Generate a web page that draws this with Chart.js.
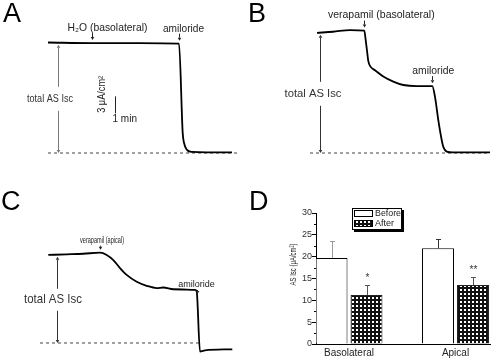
<!DOCTYPE html>
<html>
<head>
<meta charset="utf-8">
<script src="https://cdn.jsdelivr.net/npm/chart.js@4.4.1/dist/chart.umd.min.js"></script>
<style>
  body { margin: 0; background: #fff; }
  #fig { position: relative; width: 500px; height: 363px; overflow: hidden; font-family: "Liberation Sans", Arial, sans-serif; }
  #fig canvas { position: absolute; }
  .tag { position: absolute; font-size: 27px; line-height: 27px; color: #000; }
</style>
</head>
<body>
<div id="fig">
  <canvas id="chartA" width="250" height="170" style="left:0;top:0"></canvas>
  <canvas id="chartB" width="250" height="170" style="left:250px;top:0"></canvas>
  <canvas id="chartC" width="250" height="183" style="left:0;top:180px"></canvas>
  <canvas id="chartD" width="245" height="183" style="left:255px;top:180px"></canvas>
  <div class="tag" style="left:3px;top:0">A</div>
  <div class="tag" style="left:248px;top:0">B</div>
  <div class="tag" style="left:1px;top:188px">C</div>
  <div class="tag" style="left:249px;top:188px">D</div>
</div>
<script>
var FONT = '"Liberation Sans", Arial, sans-serif';
Chart.defaults.font.family = FONT;

// traces: time in min, AS Isc in uA/cm2
// A - H2O basolateral, then amiloride
var aTime = [4.8, 9.2, 14.0, 17.9, 18.27, 18.4, 18.67, 19.17, 23.2];
var aIsc = [19.5, 19.4, 19.4, 19.3, 3.5, 1.8, 0.6, 0.2, 0.1];
var aMarkTime = [9.2, 17.9];
var aMarkLabel = ['H\u2082O (basolateral)', 'amiloride'];

// B - verapamil basolateral, then amiloride
var bTime = [6.7, 8.3, 10.0, 11.43, 11.57, 11.73, 11.83, 12.07, 12.5, 13.33, 14.33, 15.33, 16.67, 18.23, 18.5, 18.83, 19.17, 19.33, 19.67, 20.3, 24.0];
var bIsc = [21.2, 21.4, 21.7, 21.6, 19.9, 17.6, 16.2, 15.2, 14.6, 13.5, 12.6, 12.0, 11.8, 11.8, 9.9, 5.8, 2.3, 1.1, 0.25, 0.1, 0.1];
var bMarkTime = [11.43, 18.23];
var bMarkLabel = ['verapamil (basolateral)', 'amiloride'];

// C - verapamil apical, then amiloride
var cTime = [4.83, 6.67, 8.33, 10.0, 10.67, 11.33, 12.0, 12.67, 13.67, 14.67, 15.67, 16.33, 17.33, 19.5, 19.67, 20.0, 20.5, 23.23];
var cIsc = [15.4, 15.5, 15.6, 15.8, 15.4, 14.5, 13.1, 11.9, 10.7, 10.0, 9.6, 9.7, 9.4, 9.3, 9.0, -1.5, -1.3, -1.1];
var cMarkTime = [10.0, 19.7];
var cMarkLabel = ['verapamil (apical)', 'amiloride'];

// D - summary bars
var dCats = ['Basolateral', 'Apical'];
var dBefore = [19.7, 21.9];
var dBeforeErr = [4.0, 2.2];
var dAfter = [11.2, 13.5];
var dAfterErr = [2.2, 1.9];
var dSig = ['*', '**'];
var dTicks = [0, 5, 10, 15, 20, 25, 30];

// value of a trace at time t (only used to place the labels)
function iscAt(time, isc, t) {
  for (var i = 1; i < time.length; i++) {
    if (t <= time[i]) {
      var f = (t - time[i - 1]) / (time[i] - time[i - 1]);
      return isc[i - 1] + f * (isc[i] - isc[i - 1]);
    }
  }
  return isc[isc.length - 1];
}

function arrow(ctx, x, y0, y1, head) {
  var dir = y1 > y0 ? 1 : -1;
  x = Math.round(x) + 0.5;
  ctx.beginPath();
  ctx.moveTo(x, y0);
  ctx.lineTo(x, y1 - dir * head);
  ctx.stroke();
  ctx.beginPath();
  ctx.moveTo(x, y1);
  ctx.lineTo(x - head * 0.6, y1 - dir * head);
  ctx.lineTo(x + head * 0.6, y1 - dir * head);
  ctx.closePath();
  ctx.fill();
}

var traceMarks = {
  id: 'traceMarks',
  afterDatasetsDraw: function (chart, args, opts) {
    var ctx = chart.ctx, xs = chart.scales.x, ys = chart.scales.y;
    ctx.save();
    ctx.textAlign = 'center';
    ctx.textBaseline = 'middle';
    ctx.lineWidth = 1;
    ctx.fillStyle = '#222';
    ctx.strokeStyle = '#222';

    // drug additions
    opts.marks.forEach(function (m) {
      var px = xs.getPixelForValue(m.t);
      var py = ys.getPixelForValue(iscAt(opts.time, opts.isc, m.t));
      ctx.font = m.size + 'px ' + FONT;
      ctx.fillText(m.label, px + m.dx, py - opts.gap, m.w);
      arrow(ctx, px, py - opts.gap + 5, py - 3, 3);
    });

    // total AS Isc double arrow
    var tot = opts.total;
    var tx = xs.getPixelForValue(tot.t);
    var top = ys.getPixelForValue(iscAt(opts.time, opts.isc, tot.t)) + 2;
    var bot = ys.getPixelForValue(0);
    var mid = (top + bot) / 2;
    ctx.strokeStyle = tot.color;
    ctx.fillStyle = tot.color;
    arrow(ctx, tx, mid - tot.clear, top, 3);
    arrow(ctx, tx, mid + tot.clear, bot, 3);
    ctx.fillStyle = '#333';
    ctx.font = tot.size + 'px ' + FONT;
    ctx.fillText('total AS Isc', tx + tot.dx, mid, tot.w);

    // scale bar
    if (opts.scaleBar) {
      var sb = opts.scaleBar;
      var bx = Math.round(xs.getPixelForValue(sb.t)) + 0.5;
      var y0 = ys.getPixelForValue(sb.v), y1 = ys.getPixelForValue(sb.v + sb.dv);
      ctx.strokeStyle = '#222';
      ctx.beginPath();
      ctx.moveTo(bx, y0);
      ctx.lineTo(bx, y1);
      ctx.stroke();
      ctx.fillStyle = '#222';
      ctx.font = '10px ' + FONT;
      ctx.save();
      ctx.translate(bx - 13, y1 - 2);
      ctx.rotate(-Math.PI / 2);
      ctx.fillText('3 \u03bcA/cm\u00b2', 0, 0, 37);
      ctx.restore();
      ctx.textAlign = 'left';
      ctx.fillText('1 min', bx - 3, y0 + 5.5);
    }
    ctx.restore();
  }
};

function makeTrace(id, time, isc, baseFrom, baseTo, yMin, yMax, marks, extra) {
  var trace = time.map(function (t, i) { return { x: t, y: isc[i] }; });
  var base = [{ x: baseFrom, y: 0 }, { x: baseTo, y: 0 }];
  extra.time = time;
  extra.isc = isc;
  extra.marks = marks;
  return new Chart(document.getElementById(id), {
    type: 'line',
    data: {
      datasets: [
        { data: trace, borderColor: '#000', borderWidth: 1.8, pointRadius: 0, cubicInterpolationMode: 'monotone', fill: false },
        { data: base, borderColor: '#444', borderWidth: 1, borderDash: [3, 3], pointRadius: 0, fill: false }
      ]
    },
    options: {
      responsive: false,
      animation: false,
      devicePixelRatio: 1,
      layout: { padding: 0 },
      scales: {
        x: { type: 'linear', display: false, min: 0, max: 25 },
        y: { display: false, min: yMin, max: yMax }
      },
      plugins: { legend: { display: false }, tooltip: { enabled: false }, traceMarks: extra }
    },
    plugins: [traceMarks]
  });
}

makeTrace('chartA', aTime, aIsc, 4.8, 23.7, -3, 27, [
  { t: aMarkTime[0], label: aMarkLabel[0], dx: 15.5, size: 10.5, w: 80 },
  { t: aMarkTime[1], label: aMarkLabel[1], dx: 4.5, size: 10.5, w: 41 }
], {
  gap: 15,
  total: { t: 5.8, dx: -8, size: 10, w: 46, clear: 12, color: '#777' },
  scaleBar: { t: 11.5, v: 7, dv: 3 }
});

makeTrace('chartB', bTime, bIsc, 6.0, 24.0, -3, 27, [
  { t: bMarkTime[0], label: bMarkLabel[0], dx: 17, size: 10.5, w: 108 },
  { t: bMarkTime[1], label: bMarkLabel[1], dx: 1, size: 10.5, w: 42 }
], {
  gap: 15,
  total: { t: 7.0, dx: -7, size: 11.5, w: 57, clear: 12, color: '#333' }
});

makeTrace('chartC', cTime, cIsc, 4.0, 20.0, -3.5, 28.5, [
  { t: cMarkTime[0], label: cMarkLabel[0], dx: 2, size: 8.5, w: 44 },
  { t: cMarkTime[1], label: cMarkLabel[1], dx: -0.5, size: 9, w: 37 }
], {
  gap: 12,
  total: { t: 5.7, dx: -4, size: 13, w: 58, clear: 11, color: '#333' }
});

// dark checkered fill for the "After" bars
function hatch() {
  var c = document.createElement('canvas');
  c.width = 4;
  c.height = 4;
  var g = c.getContext('2d');
  g.fillStyle = '#111';
  g.fillRect(0, 0, 4, 4);
  g.fillStyle = '#fff';
  g.fillRect(1, 1, 2, 2);
  return g.createPattern(c, 'repeat');
}
var afterFill = hatch();

var barExtras = {
  id: 'barExtras',
  afterDatasetsDraw: function (chart) {
    var ctx = chart.ctx, ys = chart.scales.y, area = chart.chartArea;
    ctx.save();
    ctx.lineWidth = 1;
    ctx.strokeStyle = '#000';

    // minor ticks
    for (var v = 2.5; v < 30; v += 5) {
      var py = Math.round(ys.getPixelForValue(v)) + 0.5;
      ctx.beginPath();
      ctx.moveTo(area.left - 2, py);
      ctx.lineTo(area.left, py);
      ctx.stroke();
    }

    // error bars and significance marks
    chart.data.datasets.forEach(function (ds, i) {
      var meta = chart.getDatasetMeta(i);
      meta.data.forEach(function (bar, j) {
        var x = Math.round(bar.x) + 0.5;
        var top = Math.round(ys.getPixelForValue(ds.data[j].y + ds.errors[j])) + 0.5;
        ctx.strokeStyle = ds.errorColor[j];
        ctx.beginPath();
        ctx.moveTo(x, bar.y);
        ctx.lineTo(x, top);
        ctx.moveTo(x - 2.5, top);
        ctx.lineTo(x + 2.5, top);
        ctx.stroke();
        if (ds.sig && ds.sig[j]) {
          ctx.fillStyle = '#333';
          ctx.font = '10px ' + FONT;
          ctx.textAlign = 'center';
          ctx.textBaseline = 'middle';
          ctx.fillText(ds.sig[j], x, top - 7);
        }
      });
    });

    // y title
    ctx.fillStyle = '#222';
    ctx.font = '9px ' + FONT;
    ctx.textAlign = 'center';
    ctx.textBaseline = 'middle';
    ctx.save();
    ctx.translate(area.left - 22, (area.top + area.bottom) / 2 - 14);
    ctx.rotate(-Math.PI / 2);
    ctx.fillText('AS Isc (\u03bcA/cm\u00b2)', 0, 0, 42);
    ctx.restore();

    // legend box
    var lx = area.left + 36, ly = area.top - 5, lw = 50, lh = 22;
    ctx.fillStyle = '#000';
    ctx.fillRect(lx + 2, ly + 2, lw, lh);
    ctx.fillStyle = '#fff';
    ctx.fillRect(lx, ly, lw, lh);
    ctx.strokeStyle = '#000';
    ctx.strokeRect(lx + 0.5, ly + 0.5, lw - 1, lh - 1);
    chart.data.datasets.forEach(function (ds, i) {
      var sy = ly + 2 + i * 10;
      ctx.fillStyle = ds.backgroundColor;
      ctx.fillRect(lx + 2, sy, 19, 7);
      ctx.strokeStyle = '#000';
      ctx.strokeRect(lx + 2.5, sy + 0.5, 18, 6);
      ctx.fillStyle = '#222';
      ctx.font = '9px ' + FONT;
      ctx.textAlign = 'left';
      ctx.textBaseline = 'middle';
      ctx.fillText(ds.label, lx + 23, sy + 4, 26);
    });
    ctx.restore();
  }
};

new Chart(document.getElementById('chartD'), {
  type: 'bar',
  data: {
    datasets: [
      {
        label: 'Before',
        data: dBefore.map(function (v, i) { return { x: i, y: v }; }),
        errors: dBeforeErr,
        errorColor: ['#999', '#333'],
        backgroundColor: '#fff',
        borderColor: '#000',
        borderWidth: 1,
        categoryPercentage: 0.657,
        barPercentage: 0.914
      },
      {
        label: 'After',
        data: dAfter.map(function (v, i) { return { x: i, y: v }; }),
        errors: dAfterErr,
        errorColor: ['#555', '#555'],
        sig: dSig,
        backgroundColor: afterFill,
        borderColor: '#222',
        borderWidth: 1,
        categoryPercentage: 0.657,
        barPercentage: 0.914
      }
    ]
  },
  options: {
    responsive: false,
    animation: false,
    devicePixelRatio: 1,
    layout: { padding: { left: 27, right: 10, top: 33, bottom: 0 } },
    scales: {
      x: {
        type: 'linear',
        min: -0.31,
        max: 1.324,
        offset: false,
        grid: { display: false, drawTicks: false, tickLength: 0, offset: false },
        border: { color: '#000', width: 1 },
        afterBuildTicks: function (s) { s.ticks = dCats.map(function (c, i) { return { value: i }; }); },
        afterFit: function (s) { s.height = 19; },
        ticks: {
          autoSkip: false,
          maxRotation: 0,
          padding: 3,
          color: '#222',
          font: { size: 10 },
          callback: function (v) { return dCats[v]; }
        }
      },
      y: {
        min: 0,
        max: 30,
        grid: { drawOnChartArea: false, tickLength: 4, color: '#000' },
        border: { color: '#000', width: 1 },
        afterBuildTicks: function (s) { s.ticks = dTicks.map(function (v) { return { value: v }; }); },
        afterFit: function (s) { s.width = 34; },
        ticks: { padding: 0, color: '#333', font: { size: 9 } }
      }
    },
    plugins: { legend: { display: false }, tooltip: { enabled: false } }
  },
  plugins: [barExtras]
});
</script>
</body>
</html>
